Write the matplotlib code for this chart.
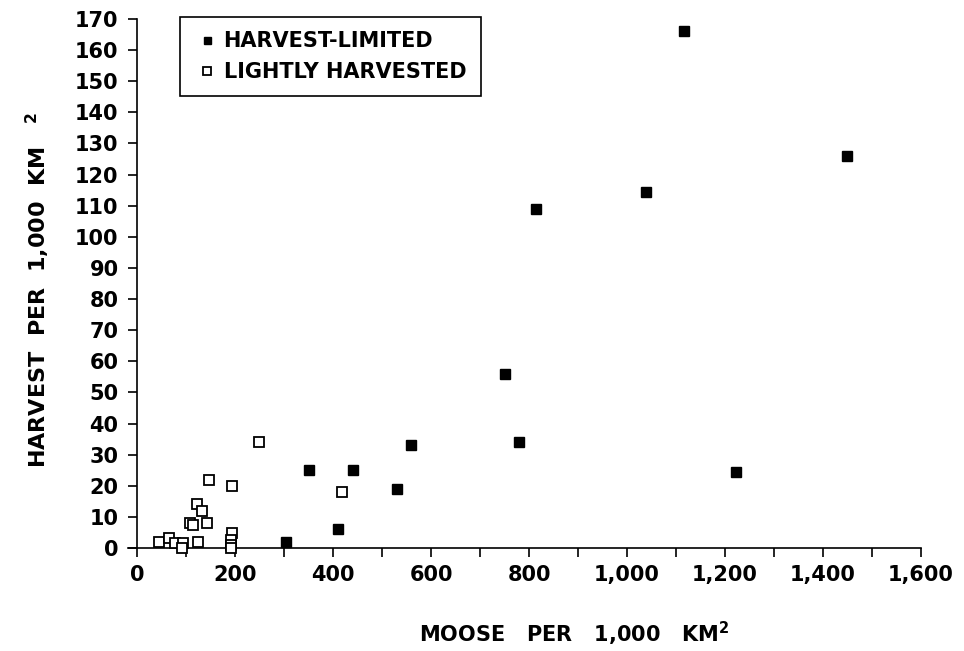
import matplotlib
matplotlib.use("Agg")
import matplotlib.pyplot as plt
from matplotlib.ticker import MultipleLocator, FuncFormatter

plt.rcParams["font.family"] = ["DejaVu Sans"]
plt.rcParams["font.weight"] = "bold"
plt.rcParams["mathtext.fontset"] = "custom"
plt.rcParams["mathtext.rm"] = "DejaVu Sans:bold"
plt.rcParams["mathtext.bf"] = "DejaVu Sans:bold"

# moose density vs harvest, both per 1,000 km^2
limited_moose = [1117, 1448, 1039, 814, 750, 780, 559, 351, 440, 530, 409, 304, 1222]
limited_harvest = [166, 126, 114.5, 109, 56, 34, 33, 25, 25, 19, 6, 2, 24.5]

light_moose = [249, 146, 194, 418, 121, 132, 108, 114, 142, 44, 64, 77, 93, 91,
               123, 193, 191, 191, 191]
light_harvest = [34, 22, 20, 18, 14, 12, 8, 7.5, 8, 2, 3.3, 1.5, 1.5, 0,
                 2, 4.7, 2.6, 1, 0]

x_max = 1600
y_max = 170

fig = plt.figure(figsize=(9.64, 6.51), dpi=100)
ax = fig.add_axes([127.5 / 964, 103 / 651, 793.5 / 964, 529 / 651])

ax.plot(limited_moose, limited_harvest, "s", color="black", markersize=7,
        clip_on=False, label="HARVEST-LIMITED", zorder=3)
ax.plot(light_moose, light_harvest, "s", markerfacecolor="white",
        markeredgecolor="black", markeredgewidth=1.3, markersize=7.5,
        clip_on=False, label="LIGHTLY HARVESTED", zorder=3)

ax.set_xlim(-20, x_max)
ax.set_ylim(0, y_max)

ax.spines["top"].set_visible(False)
ax.spines["right"].set_visible(False)
ax.spines["left"].set_position(("data", 0))
ax.spines["left"].set_linewidth(1.2)
ax.spines["bottom"].set_linewidth(1.2)

ax.xaxis.set_major_locator(MultipleLocator(200))
ax.xaxis.set_minor_locator(MultipleLocator(100))
ax.yaxis.set_major_locator(MultipleLocator(10))
ax.xaxis.set_major_formatter(FuncFormatter(lambda v, p: f"{v:,.0f}"))
ax.set_xticks([t for t in range(0, x_max + 1, 200)])

ax.tick_params(axis="both", which="both", direction="out", length=6.5,
               width=1.2, color="black")
ax.tick_params(axis="x", labelsize=15, pad=6)
ax.tick_params(axis="y", labelsize=15, pad=7)

fig.text(574 / 964, 1 - 634 / 651, "MOOSE   PER   1,000   KM$^2$",
         fontsize=15, fontweight="bold", ha="center", va="center")
fig.text(38 / 964, 1 - 290 / 651, "HARVEST  PER  1,000  KM   $^2$",
         fontsize=16, fontweight="bold", ha="center", va="center",
         rotation=90)

leg = ax.legend(loc="upper left", bbox_to_anchor=(0.066, 1.004),
                borderaxespad=0, fancybox=False, edgecolor="black",
                fontsize=15, markerscale=0.72, handlelength=1.2,
                handletextpad=0.2, labelspacing=0.5, borderpad=0.7,
                framealpha=1)
leg.get_frame().set_linewidth(1.2)

fig.savefig("out.png", dpi=100)
